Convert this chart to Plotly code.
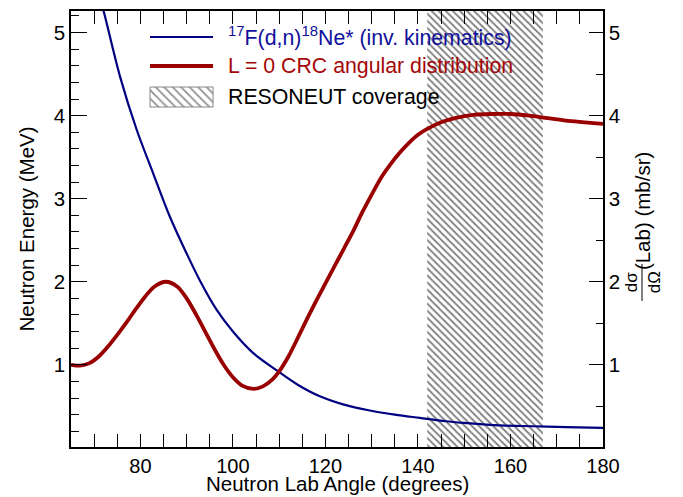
import plotly.graph_objects as go

# Kinematics curve: neutron energy (MeV) vs lab angle (deg)
kin_angle = [71.5, 72.0, 75.6, 79.2, 82.8, 86.4, 90.0, 93.0, 96.5, 100.0, 104.4,
             109.8, 114.0, 118.8, 124.0, 129.6, 135.0, 140.4, 146.0, 150.0,
             157.7, 165.0, 172.0, 180.0]
kin_energy = [5.36, 5.27, 4.47, 3.83, 3.30, 2.78, 2.34, 2.00, 1.66, 1.40, 1.14,
              0.92, 0.76, 0.62, 0.52, 0.45, 0.40, 0.36, 0.32, 0.30,
              0.27, 0.26, 0.25, 0.24]

# L = 0 CRC angular distribution dsigma/dOmega (mb/sr) vs lab angle (deg)
crc_angle = [65, 67, 69, 71, 73, 75, 77, 79, 81, 83, 85.5, 88, 90, 92, 94, 96,
             98, 100, 102, 104.5, 106.5, 108.5, 110, 112, 114, 116, 118, 120,
             122, 124, 126, 128, 130, 132, 134, 136, 138, 140, 142, 145, 148,
             152, 156, 160, 164, 168, 172, 176, 180]
crc_xsec = [1.00, 0.99, 1.02, 1.10, 1.22, 1.36, 1.51, 1.67, 1.82, 1.94, 2.00,
            1.94, 1.80, 1.61, 1.40, 1.19, 1.00, 0.85, 0.75, 0.71, 0.74, 0.82,
            0.92, 1.10, 1.32, 1.55, 1.77, 1.98, 2.19, 2.40, 2.61, 2.84, 3.05,
            3.25, 3.41, 3.55, 3.67, 3.77, 3.84, 3.92, 3.97, 4.01, 4.02, 4.02,
            4.00, 3.97, 3.94, 3.92, 3.90]

# RESONEUT angular coverage (deg)
coverage = [142, 167]

x_range = [65, 180]
y_range = [0.01, 5.26]

FONT = "Liberation Sans, Arial, Helvetica, sans-serif"
BLUE = "#000080"
RED = "#990000"

fig = go.Figure()

# hatched coverage band
fig.add_trace(go.Scatter(
    x=[coverage[0], coverage[1], coverage[1], coverage[0], coverage[0]],
    y=[0, 0, 6, 6, 0],
    fill="toself", mode="lines", line=dict(width=0, color="rgba(0,0,0,0)"),
    fillcolor="rgba(0,0,0,0)",
    fillpattern=dict(shape="\\", size=5, solidity=0.36, fgcolor="#000000",
                     bgcolor="rgba(0,0,0,0)"),
    hoverinfo="skip", showlegend=False))

fig.add_trace(go.Scatter(
    x=kin_angle, y=kin_energy, mode="lines", line=dict(color=BLUE, width=2.2, shape="spline"),
    showlegend=False))

fig.add_trace(go.Scatter(
    x=crc_angle, y=crc_xsec, mode="lines", yaxis="y2",
    line=dict(color=RED, width=3.8, shape="spline", smoothing=0.8), showlegend=False))

# legend drawn on an overlay frame spanning the plot area (0..1 each way)
leg_x = [0.1485, 0.267]
leg_rows = [0.9404, 0.8739, 0.8257, 0.7798]
fig.add_trace(go.Scatter(x=leg_x, y=[leg_rows[0]] * 2, mode="lines",
                         line=dict(color=BLUE, width=2), xaxis="x2", yaxis="y3",
                         showlegend=False, hoverinfo="skip"))
fig.add_trace(go.Scatter(x=leg_x, y=[leg_rows[1]] * 2, mode="lines",
                         line=dict(color=RED, width=4), xaxis="x2", yaxis="y3",
                         showlegend=False, hoverinfo="skip"))
fig.add_trace(go.Scatter(
    x=[leg_x[0], leg_x[1], leg_x[1], leg_x[0], leg_x[0]],
    y=[leg_rows[3], leg_rows[3], leg_rows[2], leg_rows[2], leg_rows[3]],
    fill="toself", mode="lines", line=dict(color="#888888", width=1),
    fillcolor="rgba(0,0,0,0)",
    fillpattern=dict(shape="\\", size=6, solidity=0.3, fgcolor="#222222",
                     bgcolor="rgba(0,0,0,0)"),
    xaxis="x2", yaxis="y3", showlegend=False, hoverinfo="skip"))

leg_text_x = 0.291
leg_texts = [
    ("<sup>17</sup>F(d,n)<sup>18</sup>Ne* (inv. kinematics)", "#10109c", leg_rows[0]),
    ("L = 0 CRC angular distribution", "#a50808", leg_rows[1]),
    ("RESONEUT coverage", "#000000", (leg_rows[2] + leg_rows[3]) / 2),
]
annotations = []
for txt, col, yy in leg_texts:
    annotations.append(dict(x=leg_text_x, y=yy, xref="paper", yref="paper", text=txt,
                            showarrow=False, xanchor="left", yanchor="middle",
                            font=dict(family=FONT, size=21.3, color=col)))

tick_font = dict(family=FONT, size=20.5, color="black")

# bottom axis title
annotations.append(dict(x=0.5, y=-0.083, xref="paper", yref="paper",
                        text="Neutron Lab Angle (degrees)", showarrow=False,
                        xanchor="center", yanchor="middle", borderpad=0, font=tick_font))

# right-axis title: d sigma / d Omega (Lab) (mb/sr), rotated
annotations.append(dict(x=1.0733, y=0.541, xref="paper", yref="paper",
                        text="(Lab) (mb/sr)", textangle=-90, showarrow=False,
                        xanchor="center", yanchor="middle",
                        font=dict(family=FONT, size=20.5, color="black")))
annotations.append(dict(x=1.0526, y=0.378, xref="paper", yref="paper",
                        text="dσ", textangle=-90, showarrow=False,
                        xanchor="center", yanchor="middle",
                        font=dict(family=FONT, size=17, color="black")))
annotations.append(dict(x=1.0959, y=0.378, xref="paper", yref="paper",
                        text="dΩ", textangle=-90, showarrow=False,
                        xanchor="center", yanchor="middle",
                        font=dict(family=FONT, size=17, color="black")))
shapes = [dict(type="line", xref="paper", yref="paper", x0=1.0733, x1=1.0733,
               y0=0.335, y1=0.42, line=dict(color="black", width=1))]

fig.update_layout(
    width=683, height=497,
    margin=dict(l=71, r=80, t=11, b=50, autoexpand=False),
    paper_bgcolor="white", plot_bgcolor="white",
    font=dict(family=FONT, color="black"),
    annotations=annotations, shapes=shapes,
    xaxis=dict(range=x_range, showgrid=False, zeroline=False, automargin=False,
               showline=True, linecolor="black", linewidth=1.5, mirror="allticks",
               ticks="inside", tickmode="linear", tick0=80, dtick=20, ticklen=13,
               tickcolor="black", tickwidth=1,
               minor=dict(ticks="inside", dtick=5, ticklen=7, tickcolor="black", tickwidth=1),
               tickfont=dict(family=FONT, size=20, color="black")),
    yaxis=dict(range=y_range, showgrid=False, zeroline=False, automargin=False,
               showline=True, linecolor="black", linewidth=1.5,
               ticks="inside", tickmode="linear", tick0=0, dtick=1, ticklen=16,
               tickcolor="black", tickwidth=1,
               minor=dict(ticks="inside", dtick=0.2, ticklen=8, tickcolor="black", tickwidth=1),
               tickfont=tick_font,
               title=dict(text="Neutron Energy (MeV)", font=tick_font, standoff=14)),
    yaxis2=dict(range=y_range, overlaying="y", side="right", showgrid=False,
                zeroline=False, showline=True, linecolor="black", linewidth=1.5,
                automargin=False,
                ticks="inside", tickmode="linear", tick0=0, dtick=1, ticklen=14,
                tickcolor="black", tickwidth=1,
                minor=dict(ticks="inside", dtick=0.5, ticklen=7, tickcolor="black", tickwidth=1),
                tickfont=tick_font),
    xaxis2=dict(range=[0, 1], overlaying="x", visible=False, anchor="y3"),
    yaxis3=dict(range=[0, 1], overlaying="y", visible=False, anchor="x2"),
)

fig.write_html("out.html")
